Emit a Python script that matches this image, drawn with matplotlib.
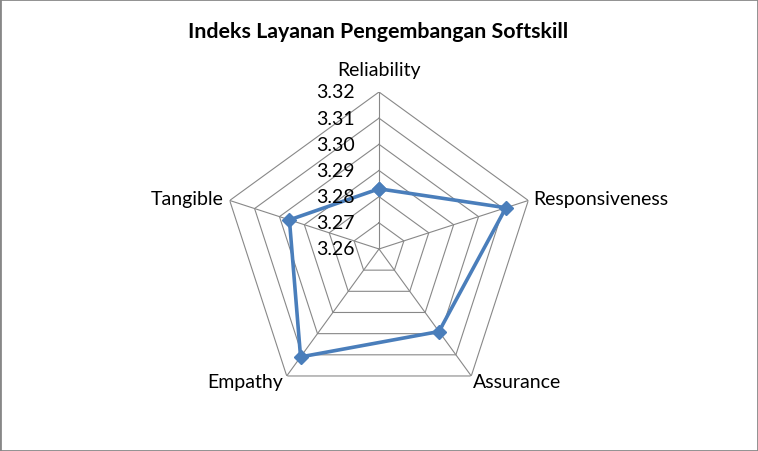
import numpy as np
import matplotlib.pyplot as plt
from matplotlib.patches import Rectangle

# Data radar chart (urutan searah jarum jam dari atas)
kategori = ['Reliability', 'Responsiveness', 'Assurance', 'Empathy', 'Tangible']
nilai = [3.283, 3.311, 3.299, 3.311, 3.296]
skala = [3.26, 3.27, 3.28, 3.29, 3.30, 3.31, 3.32]
label_skala = ['3.26', '3.27', '3.28', '3.29', '3.30', '3.31', '3.32']

plt.rcParams['font.family'] = ['Lato', 'DejaVu Sans']

fig = plt.figure(figsize=(7.58, 4.52), dpi=100)
ax = fig.add_axes([0.2929, 0.0996, 0.4142, 0.6947], projection='polar')
ax.set_theta_zero_location('N')
ax.set_theta_direction(-1)
ax.set_ylim(skala[0], skala[-1])
ax.grid(False)
ax.set_xticks([])
ax.set_yticks([])
ax.spines['polar'].set_visible(False)
ax.patch.set_alpha(0)

sudut = np.linspace(0, 2 * np.pi, len(kategori), endpoint=False)
sudut_tutup = np.append(sudut, sudut[0])

# Garis kisi berbentuk segi lima
for v in skala[1:]:
    ax.plot(sudut_tutup, [v] * len(sudut_tutup), color='#888888', lw=0.8, zorder=1)
for s in sudut:
    ax.plot([s, s], [skala[0], skala[-1]], color='#888888', lw=0.8, zorder=1)

# Seri data
ax.plot(sudut_tutup, nilai + [nilai[0]], color='#4A7EBB', lw=2.6,
        marker='D', markersize=7, zorder=3, clip_on=False)

# Label skala
for v, t in zip(skala, label_skala):
    ax.annotate(t, xy=(0, v), xytext=(-24, 0), textcoords='offset pixels',
                ha='right', va='center', fontsize=14)

# Label kategori
posisi = [((0, 22), 'center'), ((5, 2), 'left'), ((2, -6), 'left'),
          ((-4, -6), 'right'), ((-6, 2), 'right')]
for s, k, (off, ha) in zip(sudut, kategori, posisi):
    ax.annotate(k, xy=(s, skala[-1]), xytext=off, textcoords='offset pixels',
                ha=ha, va='center', fontsize=14)

fig.text(0.4987, 1 - 32 / 452, 'Indeks Layanan Pengembangan Softskill',
         ha='center', va='center', fontsize=15.4, fontweight='bold')

fig.patches.append(Rectangle((0, 0), 1, 1, transform=fig.transFigure, fill=False,
                             edgecolor='#878787', lw=2))

plt.savefig('out.png', dpi=100)
